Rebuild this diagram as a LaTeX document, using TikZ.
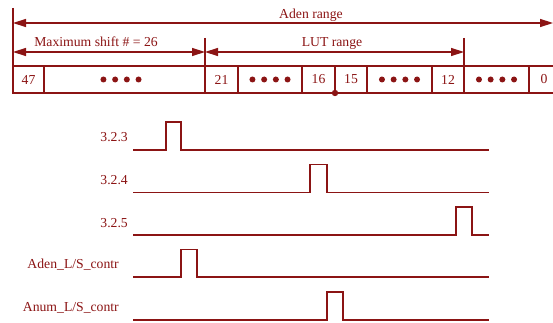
\documentclass[tikz,border=0pt]{standalone}
\usepackage{fontspec}
\setmainfont{Liberation Serif}
\usetikzlibrary{arrows.meta,calc}
\definecolor{wire}{RGB}{139,20,20}

\tikzset{
  txt/.style={font=\fontsize{13.7}{16}\selectfont, text=wire, inner sep=0pt},
  cell/.style={draw=wire, line width=1.5pt, minimum height=27pt, inner sep=0pt,
               outer sep=0pt, anchor=west, txt},
  rangearrow/.style={draw=wire, line width=1.4pt,
               {Triangle[length=13pt,width=8pt]}-{Triangle[length=13pt,width=8pt]}},
  tick/.style={draw=wire, line width=1.5pt},
  wave/.style={draw=wire, line width=1.5pt, line join=miter},
  siglabel/.style={txt, anchor=base east},
  rangelabel/.style={txt, anchor=base},
}

% four filled bullets standing for the bits left out of a cell
\newcommand\bulletrow[1]{%
  \foreach \k in {-1.5,-0.5,0.5,1.5}
    \fill[wire] ($(#1)+(\k*11.7,0)$) circle (3pt);}

\begin{document}
\begin{tikzpicture}[x=1pt,y=-1pt]
\useasboundingbox (0,0) rectangle (553,323);
\clip (0,0) rectangle (553,323);

% register cells, bit 47 down to bit 0
\node[cell, minimum width=31]  (c47)  at (13,79.5)  {47};
\node[cell, minimum width=161] (d1)   at (c47.east) {};
\node[cell, minimum width=33]  (c21)  at (d1.east)  {21};
\node[cell, minimum width=64]  (d2)   at (c21.east) {};
\node[cell, minimum width=33]  (c16)  at (d2.east)  {16};
\node[cell, minimum width=32]  (c15)  at (c16.east) {15};
\node[cell, minimum width=65]  (d3)   at (c15.east) {};
\node[cell, minimum width=32]  (c12)  at (d3.east)  {12};
\node[cell, minimum width=65]  (d4)   at (c12.east) {};
\node[cell, minimum width=30]  (c0)   at (d4.east)  {0};

\bulletrow{$(d1.center)+(-3.5,0)$}
\bulletrow{d2.center}
\bulletrow{d3.center}
\bulletrow{d4.center}

% split point between bits 16 and 15
\fill[wire] (c16.south east) circle (3.2pt);

% boundary ticks above the register
\coordinate (t0) at (13,8);
\coordinate (t1) at (205,38);
\coordinate (t2) at (464,38);
\draw[tick] (t0) -- (c47.north west);
\draw[tick] (t1) -- (c21.north west);
\draw[tick] (t2) -- (d4.north west);

% range arrows
\coordinate (aL) at (13,23);
\coordinate (aR) at (553,23);
\coordinate (mL) at (13,52);
\coordinate (mR) at (205,52);
\coordinate (lR) at (464,52);
\draw[rangearrow] (aL) -- (aR);
\draw[rangearrow] (mL) -- (mR);
\draw[rangearrow] (mR) -- (lR);

\node[rangelabel] (aden) at (311,18.5) {Aden range};
\node[rangelabel] (mshift) at (96,47) {Maximum shift \# = 26};
\node[rangelabel] (lut) at (332,47) {LUT range};

% timing waveforms
\coordinate (w1a) at (133,150);   \coordinate (w1b) at (489,150);
\coordinate (w2a) at (133,192.5); \coordinate (w2b) at (489,192.5);
\coordinate (w3a) at (133,235);   \coordinate (w3b) at (489,235);
\coordinate (w4a) at (133,277);   \coordinate (w4b) at (489,277);
\coordinate (w5a) at (133,320);   \coordinate (w5b) at (489,320);

\draw[wave] (w1a) -| (166,122)   -| (181,150)   -- (w1b);
\draw[wave] (w2a) -| (310,164.5) -| (327,192.5) -- (w2b);
\draw[wave] (w3a) -| (456,207)   -| (472,235)   -- (w3b);
\draw[wave] (w4a) -| (181,249.5) -| (197,277)   -- (w4b);
\draw[wave] (w5a) -| (327,292)   -| (343,320)   -- (w5b);

\node[siglabel] (s1) at (128,141.5) {3.2.3};
\node[siglabel] (s2) at (128,184.5) {3.2.4};
\node[siglabel] (s3) at (128,227)   {3.2.5};
\node[siglabel] (s4) at (119,268)   {Aden\_L/S\_contr};
\node[siglabel] (s5) at (119,311)   {Anum\_L/S\_contr};
\end{tikzpicture}
\end{document}
